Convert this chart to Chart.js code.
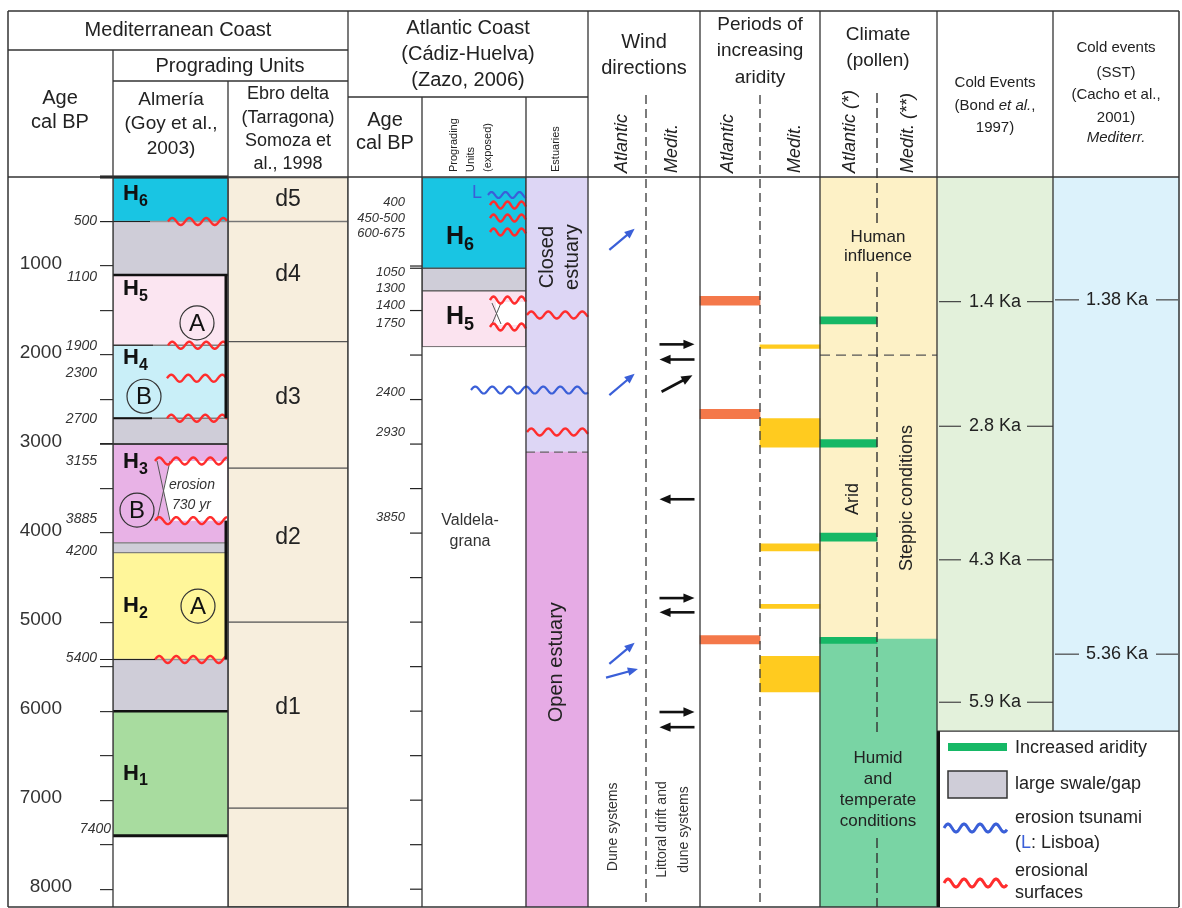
<!DOCTYPE html>
<html>
<head>
<meta charset="utf-8">
<script src="https://cdn.jsdelivr.net/npm/chart.js"></script>
<style>
  html, body { margin: 0; padding: 0; background: #fff; }
  canvas { display: block; }
</style>
</head>
<body>
<canvas id="chart" width="1182" height="908"></canvas>
<script>
// ---- data: ages in years cal BP ----
const ageTicks = [0, 500, 1000, 1500, 2000, 2500, 3000, 3500, 4000, 4500, 5000, 5500, 6000, 6500, 7000, 7500, 8000];
const ageTickLabels = ['', '', '1000', '', '2000', '', '3000', '', '4000', '', '5000', '', '6000', '', '7000', '', '8000'];

const almeriaUnits = ['H6', 'gap', 'H5', 'H4', 'gap', 'H3', 'gap', 'H2', 'gap', 'H1'];
const almeriaTop   = [0, 500, 1100, 1890, 2710, 3000, 4110, 4220, 5420, 6000];
const almeriaBase  = [500, 1100, 1890, 2710, 3000, 4110, 4220, 5420, 6000, 7400];
const almeriaErosion = [500, 1890, 2260, 2710, 3190, 3860, 5420];
const almeriaAgeLabels = ['500', '1100', '1900', '2300', '2700', '3155', '3885', '4200', '5400', '7400'];
const almeriaAgeAt     = [500, 1130, 1900, 2200, 2720, 3190, 3840, 4200, 5400, 7320];

const ebroUnits = ['d5', 'd4', 'd3', 'd2', 'd1', ''];
const ebroTop   = [0, 500, 1850, 3270, 5000, 7090];
const ebroBase  = [500, 1850, 3270, 5000, 7090, 8200];

const atlUnits = ['H6', 'gap', 'H5'];
const atlTop   = [0, 1025, 1280];
const atlBase  = [1025, 1280, 1910];
const atlErosion = [315, 461, 618, 1382, 1685];
const atlTsunamiLisboa = 202;
const atlAgeLabels = ['400', '450-500', '600-675', '1050', '1300', '1400', '1750', '2400', '2930', '3850'];
const atlAgeAt     = [290, 460, 630, 1070, 1250, 1440, 1650, 2415, 2865, 3820];

const estuaryUnits = ['Closed estuary', 'Open estuary'];
const estuaryTop   = [0, 3090];
const estuaryBase  = [3090, 8200];
const estuaryErosion = [1550, 2865];
const estuaryTsunami = [2393];

const windAtlAge     = [700, 2330, 5350, 5575];
const windAtlBearing = [50, 50, 50, 75];
const windMedAge     = [1880, 2050, 2320, 3620, 4730, 4890, 6010, 6180];
const windMedBearing = [90, 270, 62, 270, 90, 270, 90, 270];

const aridAtlStart = [1340, 2610, 5150];
const aridAtlEnd   = [1440, 2715, 5245];
const aridMedStart = [1885, 2715, 4120, 4800, 5385];
const aridMedEnd   = [1925, 3035, 4200, 4845, 5785];

const climateZones = ['Arid / steppic', 'Humid and temperate'];
const climateTop   = [0, 5190];
const climateBase  = [5190, 8200];
const humanInfluenceEnd = 2000;
const climAridStart = [1570, 2950, 4000, 5170];
const climAridEnd   = [1650, 3035, 4090, 5240];

const coldRecordEnd = 6225;
const bondEvents = [1400, 2800, 4300, 5900];
const bondLabels = ['1.4 Ka', '2.8 Ka', '4.3 Ka', '5.9 Ka'];
const cachoEvents = [1380, 5360];
const cachoLabels = ['1.38 Ka', '5.36 Ka'];

// ---- layout / style ----
const FAMILY = "'Liberation Sans', Arial, sans-serif";
const COLS = {
  age: [8, 113], alm: [113, 228], ebro: [228, 348],
  aAge: [348, 422], aProg: [422, 526], estu: [526, 588],
  wind: [588, 700], arid: [700, 820], clim: [820, 937],
  bond: [937, 1053], cacho: [1053, 1179]
};
const UNIT_COLORS = {
  H6: '#19c5e3', gap: '#cfcdd8', H5: '#fbe5f1', H4: '#c9eff8',
  H3: '#e8b2e6', H2: '#fff69a', H1: '#a8dc9f'
};
const RED = '#ff2d2d';
const BLUE = '#3a5fd8';

function blockSet(label, col, tops, bases, colors, extra) {
  const [a, b] = col;
  return Object.assign({
    label: label,
    data: tops.map((t, i) => ({ x: (a + b) / 2, y: [t, bases[i]] })),
    backgroundColor: colors,
    barThickness: b - a,
    stack: 'strata',
    borderWidth: 0,
    borderSkipped: false,
    order: 2
  }, extra || {});
}

const datasets = [
  blockSet('Climate aridity', [820, 877], climAridStart, climAridEnd, '#16b866', { order: 1 }),
  blockSet('Aridity Atlantic', [700, 760], aridAtlStart, aridAtlEnd, '#f4784a', { order: 1 }),
  blockSet('Aridity Medit', [760, 820], aridMedStart, aridMedEnd, '#ffcb1f', { order: 1 }),
  blockSet('Almería', COLS.alm, almeriaTop, almeriaBase, almeriaUnits.map(u => UNIT_COLORS[u]),
    { borderWidth: 1, borderColor: '#808080' }),
  blockSet('Ebro delta', COLS.ebro, ebroTop, ebroBase, '#f7eedd', { borderWidth: 1, borderColor: '#555' }),
  blockSet('Atlantic prograding units', COLS.aProg, atlTop, atlBase,
    atlUnits.map(u => u === 'H5' ? '#fbe3ef' : UNIT_COLORS[u]), { borderWidth: 1, borderColor: '#555' }),
  blockSet('Estuaries', COLS.estu, estuaryTop, estuaryBase, ['#ddd6f5', '#e6abe5']),
  blockSet('Climate', COLS.clim, climateTop, climateBase, ['#fdf1c6', '#79d4a4'], { order: 3 }),
  blockSet('Bond', COLS.bond, [0], [coldRecordEnd], '#e3f1db', { order: 3 }),
  blockSet('Cacho', COLS.cacho, [0], [coldRecordEnd], '#dcf2fb', { order: 3 })
];

// ---- drawing helpers ----
function fnt(size, style) { return (style ? style + ' ' : '') + size + 'px ' + FAMILY; }
function txt(c, s, x, y, font, color, align) {
  c.font = font; c.fillStyle = color || '#222';
  c.textAlign = align || 'center'; c.textBaseline = 'middle';
  c.fillText(s, x, y);
}
function vtxt(c, s, x, y, font, color, align) {
  c.save(); c.translate(x, y); c.rotate(-Math.PI / 2);
  txt(c, s, 0, 0, font, color, align); c.restore();
}
function line(c, x1, y1, x2, y2, color, w, dash) {
  c.save(); c.beginPath(); c.setLineDash(dash || []);
  c.strokeStyle = color || '#333'; c.lineWidth = w || 1;
  c.moveTo(x1, y1); c.lineTo(x2, y2); c.stroke(); c.restore();
}
function wave(c, x1, x2, y, color, amp, len, w) {
  amp = amp || 3.5; len = len || 16;
  c.save(); c.beginPath(); c.strokeStyle = color; c.lineWidth = w || 2.4; c.lineJoin = 'round';
  for (let x = x1; x <= x2; x += 0.5) {
    const yy = y - amp * Math.sin((x - x1) / len * 2 * Math.PI);
    if (x === x1) c.moveTo(x, yy); else c.lineTo(x, yy);
  }
  c.stroke(); c.restore();
}
function arrow(c, cx, cy, bearing, len, color, w, head) {
  const r = bearing * Math.PI / 180;
  const dx = Math.sin(r) * len, dy = -Math.cos(r) * len;
  const x1 = cx - dx / 2, y1 = cy - dy / 2, x2 = cx + dx / 2, y2 = cy + dy / 2;
  const ang = Math.atan2(dy, dx);
  c.save(); c.strokeStyle = color; c.fillStyle = color; c.lineWidth = w;
  c.beginPath(); c.moveTo(x1, y1);
  c.lineTo(x2 - Math.cos(ang) * head * 0.7, y2 - Math.sin(ang) * head * 0.7); c.stroke();
  c.beginPath(); c.moveTo(x2, y2);
  c.lineTo(x2 - head * Math.cos(ang - 0.4), y2 - head * Math.sin(ang - 0.4));
  c.lineTo(x2 - head * Math.cos(ang + 0.4), y2 - head * Math.sin(ang + 0.4));
  c.closePath(); c.fill(); c.restore();
}
function hLabel(c, digit, x, y, size) {
  c.font = fnt(size, 'bold'); c.textAlign = 'left'; c.textBaseline = 'middle'; c.fillStyle = '#111';
  c.fillText('H', x, y);
  const w = c.measureText('H').width;
  c.font = fnt(Math.round(size * 0.72), 'bold');
  c.fillText(digit, x + w, y + size * 0.34);
}
function circled(c, s, cx, cy, r) {
  c.save(); c.beginPath(); c.arc(cx, cy, r, 0, Math.PI * 2);
  c.lineWidth = 1.2; c.strokeStyle = '#333'; c.stroke(); c.restore();
  txt(c, s, cx, cy + 1, fnt(24), '#111');
}

const H_LABEL_DY = { H6: 17, H5: 14, H4: 13, H3: 18 };
const CIRCLES = { H5: ['A', 197, 48], H4: ['B', 144, 51], H3: ['B', 137, 66], H2: ['A', 198, 52] };

const figure = {
  id: 'figure',
  afterDraw(chart) {
    const c = chart.ctx;
    const Y = v => chart.scales.y.getPixelForValue(v);
    const X = v => chart.scales.x.getPixelForValue(v);
    const T = chart.chartArea.top, B = chart.chartArea.bottom;

    // ---------- main age axis labels ----------
    chart.scales.y.ticks.forEach((t, i) => {
      const s = ageTickLabels[i];
      if (s) txt(c, s, s === '8000' ? 72 : 62, Y(t.value) - 2, fnt(19), '#333', 'right');
    });

    // ---------- Almería body ----------
    c.save(); c.fillStyle = '#fff';
    c.beginPath();
    c.moveTo(X(163), (Y(3190) + Y(3860)) / 2);
    c.lineTo(X(170), Y(3190)); c.lineTo(X(227), Y(3190));
    c.lineTo(X(227), Y(3860)); c.lineTo(X(170), Y(3860));
    c.closePath(); c.fill(); c.restore();
    line(c, X(157), Y(3190), X(170), Y(3860), '#555', 1);
    line(c, X(170), Y(3190), X(157), Y(3860), '#555', 1);
    txt(c, 'erosion', X(169), Y(3190) + 24, fnt(14, 'italic'), '#333', 'left');
    txt(c, '730 yr', X(172), Y(3190) + 44, fnt(14, 'italic'), '#333', 'left');

    const almWaveStart = [168, 168, 167, 167, 155, 155, 155];
    almeriaErosion.forEach((a, i) => wave(c, X(almWaveStart[i]), X(227), Y(a), RED, 3.5, 17, 2.4));

    line(c, 100, Y(0), X(228), Y(0), '#111', 3);
    line(c, 100, Y(500), X(150), Y(500), '#222', 1.2);
    line(c, X(113), Y(1100), X(228), Y(1100), '#111', 2.5);
    line(c, X(113), Y(1890), X(153), Y(1890), '#222', 1.2);
    line(c, X(113), Y(2710), X(152), Y(2710), '#111', 2.2);
    line(c, 100, Y(3000), X(228), Y(3000), '#222', 1.4);
    line(c, 100, Y(5420), X(155), Y(5420), '#222', 1.2);
    line(c, X(113), Y(6000), X(228), Y(6000), '#111', 2.5);
    line(c, X(113), Y(7400), X(228), Y(7400), '#111', 3);
    line(c, X(226), Y(1100), X(226), Y(2710), '#111', 3);
    line(c, X(226), Y(3860), X(226), Y(5420), '#111', 3);

    almeriaUnits.forEach((u, i) => {
      if (u === 'gap') return;
      const top = Y(almeriaTop[i]), mid = (Y(almeriaTop[i]) + Y(almeriaBase[i])) / 2;
      const yy = H_LABEL_DY[u] !== undefined ? top + H_LABEL_DY[u] : mid;
      hLabel(c, u.slice(1), X(123), yy, 22);
      const circ = CIRCLES[u];
      if (circ) circled(c, circ[0], X(circ[1]), u === 'H2' ? mid : top + circ[2], 17);
    });

    almeriaAgeLabels.forEach((s, i) =>
      txt(c, s, i === almeriaAgeLabels.length - 1 ? 111 : 97, Y(almeriaAgeAt[i]), fnt(14, 'italic'), '#333', 'right'));

    // ---------- Ebro ----------
    ebroUnits.forEach((u, i) => {
      if (!u) return;
      const mid = (Y(ebroTop[i]) + Y(ebroBase[i])) / 2 - (i === 0 ? 0 : 7);
      txt(c, u, X(288), mid, fnt(23), '#222');
    });

    // ---------- Atlantic ages ----------
    chart.scales.y.ticks.forEach(t => {
      if (t.value >= 1000 && t.value <= 8000) line(c, X(410), Y(t.value), X(422), Y(t.value), '#222', 1.2);
    });
    line(c, X(410), Y(1025), X(422), Y(1025), '#222', 1.2);
    atlAgeLabels.forEach((s, i) => txt(c, s, X(405), Y(atlAgeAt[i]), fnt(13, 'italic'), '#333', 'right'));

    // ---------- Atlantic prograding ----------
    c.save(); c.fillStyle = '#fff';
    c.fillRect(X(496), Y(1382) + 2, X(525) - X(496), Y(1685) - Y(1382) - 4); c.restore();
    line(c, X(492), Y(1382) + 3, X(501), Y(1685) - 3, '#555', 1);
    line(c, X(501), Y(1382) + 3, X(492), Y(1685) - 3, '#555', 1);
    wave(c, X(488), X(526), Y(atlTsunamiLisboa), BLUE, 3, 14, 2.2);
    txt(c, 'L', X(477), Y(atlTsunamiLisboa) - 2, fnt(18), BLUE);
    atlErosion.forEach(a => wave(c, X(490), X(526), Y(a), RED, 3.5, 14, 2.4));
    hLabel(c, '6', X(446), (Y(atlTop[0]) + Y(atlBase[0])) / 2 + 14, 25);
    hLabel(c, '5', X(446), (Y(atlTop[2]) + Y(atlBase[2])) / 2 - 2, 25);
    txt(c, 'Valdela-', X(470), Y(3850) + 1, fnt(16), '#333');
    txt(c, 'grana', X(470), Y(3850) + 22, fnt(16), '#333');

    // ---------- Estuaries ----------
    line(c, X(526), Y(estuaryTop[1]), X(588), Y(estuaryTop[1]), '#666', 1.2, [9, 5]);
    estuaryErosion.forEach(a => wave(c, X(527), X(588), Y(a), RED, 3.5, 17, 2.4));
    estuaryTsunami.forEach(a => wave(c, X(471), X(588), Y(a), BLUE, 3.5, 17, 2.2));
    vtxt(c, 'Closed', X(547), Y(900), fnt(20), '#222');
    vtxt(c, 'estuary', X(572), Y(900), fnt(20), '#222');
    vtxt(c, 'Open estuary', X(556), Y(5450), fnt(20), '#222');

    // ---------- Wind ----------
    line(c, X(646), 95, X(646), B, '#444', 1.4, [9, 5]);
    windAtlAge.forEach((a, i) => arrow(c, X(622), Y(a), windAtlBearing[i], 33, BLUE, 2.2, 11));
    windMedAge.forEach((a, i) => arrow(c, X(677), Y(a), windMedBearing[i], 35, '#111', 2.6, 12));
    vtxt(c, 'Dune systems', X(613), Y(7300), fnt(14), '#333');
    vtxt(c, 'Littoral drift and', X(662), Y(7330), fnt(14), '#333');
    vtxt(c, 'dune systems', X(684), Y(7330), fnt(14), '#333');

    // ---------- Aridity ----------
    line(c, X(760), 95, X(760), B, '#444', 1.4, [9, 5]);

    // ---------- Climate ----------
    line(c, X(820), Y(humanInfluenceEnd), X(937), Y(humanInfluenceEnd), '#555', 1.2, [10, 6]);
    line(c, X(877), 93, X(877), 228, '#333', 1.4, [10, 5]);
    line(c, X(877), 272, X(877), 737, '#333', 1.4, [10, 5]);
    line(c, X(877), 838, X(877), B, '#333', 1.4, [10, 5]);
    txt(c, 'Human', X(878), 237, fnt(17), '#222');
    txt(c, 'influence', X(878), 256, fnt(17), '#222');
    vtxt(c, 'Arid', X(853), 499, fnt(18), '#222');
    vtxt(c, 'Steppic conditions', X(907), 498, fnt(18), '#222');
    ['Humid', 'and', 'temperate', 'conditions'].forEach((s, i) => txt(c, s, X(878), 758 + i * 21, fnt(17), '#222'));

    // ---------- Cold events ----------
    bondEvents.forEach((a, i) => {
      line(c, X(939), Y(a), X(961), Y(a), '#444', 1.2);
      line(c, X(1027), Y(a), X(1053), Y(a), '#444', 1.2);
      txt(c, bondLabels[i], X(995), Y(a), fnt(18), '#222');
    });
    cachoEvents.forEach((a, i) => {
      line(c, X(1055), Y(a), X(1079), Y(a), '#444', 1.2);
      line(c, X(1156), Y(a), X(1178), Y(a), '#444', 1.2);
      txt(c, cachoLabels[i], X(1117), Y(a), fnt(18), '#222');
    });

    // ---------- table grid ----------
    const k = '#333';
    line(c, 8, 11, 1179, 11, k, 1.5);
    line(c, 8, 907, 1179, 907, k, 1.5);
    line(c, 8, 11, 8, 907, k, 1.5);
    line(c, 1179, 11, 1179, 907, k, 1.5);
    line(c, 8, 50, 348, 50, k, 1.3);
    line(c, 113, 81, 348, 81, k, 1.3);
    line(c, 348, 97, 588, 97, k, 1.3);
    line(c, 8, T, 1179, T, k, 1.3);
    line(c, 113, 50, 113, 907, k, 1.3);
    line(c, 228, 81, 228, 907, k, 1.3);
    [348, 588, 700, 820, 937].forEach(x => line(c, x, 11, x, 907, k, 1.3));
    [422, 526].forEach(x => line(c, x, 97, x, 907, k, 1.3));
    line(c, 1053, 11, 1053, Y(coldRecordEnd), k, 1.3);

    // ---------- legend ----------
    const lt = Y(coldRecordEnd);
    c.save(); c.fillStyle = '#fff'; c.fillRect(939, lt, 239, 907 - lt); c.restore();
    line(c, 937, lt, 1179, lt, k, 1.3);
    line(c, 938.5, lt, 938.5, 907, '#111', 3);
    c.save();
    c.fillStyle = '#16b866'; c.fillRect(948, 743, 59, 8);
    c.fillStyle = UNIT_COLORS.gap; c.fillRect(948, 771, 59, 27);
    c.strokeStyle = '#333'; c.lineWidth = 1.5; c.strokeRect(948, 771, 59, 27);
    c.restore();
    wave(c, 944, 1007, 828, BLUE, 4, 16, 3);
    wave(c, 944, 1007, 883, RED, 4, 16, 3);
    const lf = fnt(18);
    txt(c, 'Increased aridity', 1015, 748, lf, '#222', 'left');
    txt(c, 'large swale/gap', 1015, 784, lf, '#222', 'left');
    txt(c, 'erosion tsunami', 1015, 818, lf, '#222', 'left');
    txt(c, '(', 1015, 843, lf, '#222', 'left');
    c.font = lf; const pw = c.measureText('(').width, lw = c.measureText('L').width;
    txt(c, 'L', 1015 + pw, 843, lf, BLUE, 'left');
    txt(c, ': Lisboa)', 1015 + pw + lw, 843, lf, '#222', 'left');
    txt(c, 'erosional', 1015, 871, lf, '#222', 'left');
    txt(c, 'surfaces', 1015, 893, lf, '#222', 'left');

    // ---------- headers ----------
    const h = fnt(20), h19 = fnt(19), h18 = fnt(18);
    txt(c, 'Mediterranean Coast', 178, 30, h);
    txt(c, 'Age', 60, 98, h); txt(c, 'cal BP', 60, 122, h);
    txt(c, 'Prograding Units', 230, 66, h);
    txt(c, 'Almería', 171, 100, h19); txt(c, '(Goy et al.,', 171, 124, h19); txt(c, '2003)', 171, 149, h19);
    txt(c, 'Ebro delta', 288, 94, h18); txt(c, '(Tarragona)', 288, 118, h18);
    txt(c, 'Somoza et', 288, 141, h18); txt(c, 'al., 1998', 288, 164, h18);
    txt(c, 'Atlantic Coast', 468, 28, h); txt(c, '(Cádiz-Huelva)', 468, 54, h); txt(c, '(Zazo, 2006)', 468, 80, h);
    txt(c, 'Age', 385, 120, h); txt(c, 'cal BP', 385, 143, h);
    vtxt(c, 'Prograding', 454, 172, fnt(11), '#222', 'left');
    vtxt(c, 'Units', 471, 172, fnt(11), '#222', 'left');
    vtxt(c, '(exposed)', 488, 172, fnt(11), '#222', 'left');
    vtxt(c, 'Estuaries', 556, 172, fnt(11), '#222', 'left');
    txt(c, 'Wind', 644, 42, h); txt(c, 'directions', 644, 68, h);
    const it = fnt(18, 'italic');
    vtxt(c, 'Atlantic', 622, 173, it, '#222', 'left'); vtxt(c, 'Medit.', 672, 173, it, '#222', 'left');
    txt(c, 'Periods of', 760, 25, h19); txt(c, 'increasing', 760, 51, h19); txt(c, 'aridity', 760, 78, h19);
    vtxt(c, 'Atlantic', 728, 173, it, '#222', 'left'); vtxt(c, 'Medit.', 795, 173, it, '#222', 'left');
    txt(c, 'Climate', 878, 35, h19); txt(c, '(pollen)', 878, 61, h19);
    vtxt(c, 'Atlantic (*)', 850, 173, it, '#222', 'left'); vtxt(c, 'Medit. (**)', 908, 173, it, '#222', 'left');
    const s15 = fnt(15);
    txt(c, 'Cold Events', 995, 83, s15);
    c.font = s15;
    const p1 = '(Bond ', p2 = 'et al.', p3 = ',';
    const w1 = c.measureText(p1).width, w3 = c.measureText(p3).width;
    c.font = fnt(15, 'italic'); const w2 = c.measureText(p2).width;
    const sx = 995 - (w1 + w2 + w3) / 2;
    txt(c, p1, sx, 106, s15, '#222', 'left');
    txt(c, p2, sx + w1, 106, fnt(15, 'italic'), '#222', 'left');
    txt(c, p3, sx + w1 + w2, 106, s15, '#222', 'left');
    txt(c, '1997)', 995, 128, s15);
    txt(c, 'Cold events', 1116, 48, s15); txt(c, '(SST)', 1116, 73, s15);
    txt(c, '(Cacho et al.,', 1116, 95, s15); txt(c, '2001)', 1116, 118, s15);
    txt(c, 'Mediterr.', 1116, 138, fnt(15, 'italic'));
  }
};

const chart = new Chart(document.getElementById('chart').getContext('2d'), {
  type: 'bar',
  data: { datasets: datasets },
  options: {
    responsive: false,
    animation: false,
    layout: { padding: { left: 8, right: 3, top: 177, bottom: 1 } },
    plugins: { legend: { display: false }, tooltip: { enabled: false } },
    scales: {
      x: { type: 'linear', min: 113, max: 1179, display: false, offset: false, grid: { display: false } },
      y: {
        type: 'linear', reverse: true, min: 0, max: 8200, stacked: false,
        afterFit(scale) { scale.width = 105; },
        afterBuildTicks(scale) { scale.ticks = ageTicks.map(v => ({ value: v })); },
        border: { display: false },
        grid: { drawOnChartArea: false, drawTicks: true, tickLength: 13, color: '#333', lineWidth: 1.2 },
        ticks: { display: false, autoSkip: false }
      }
    }
  },
  plugins: [figure]
});
</script>
</body>
</html>
